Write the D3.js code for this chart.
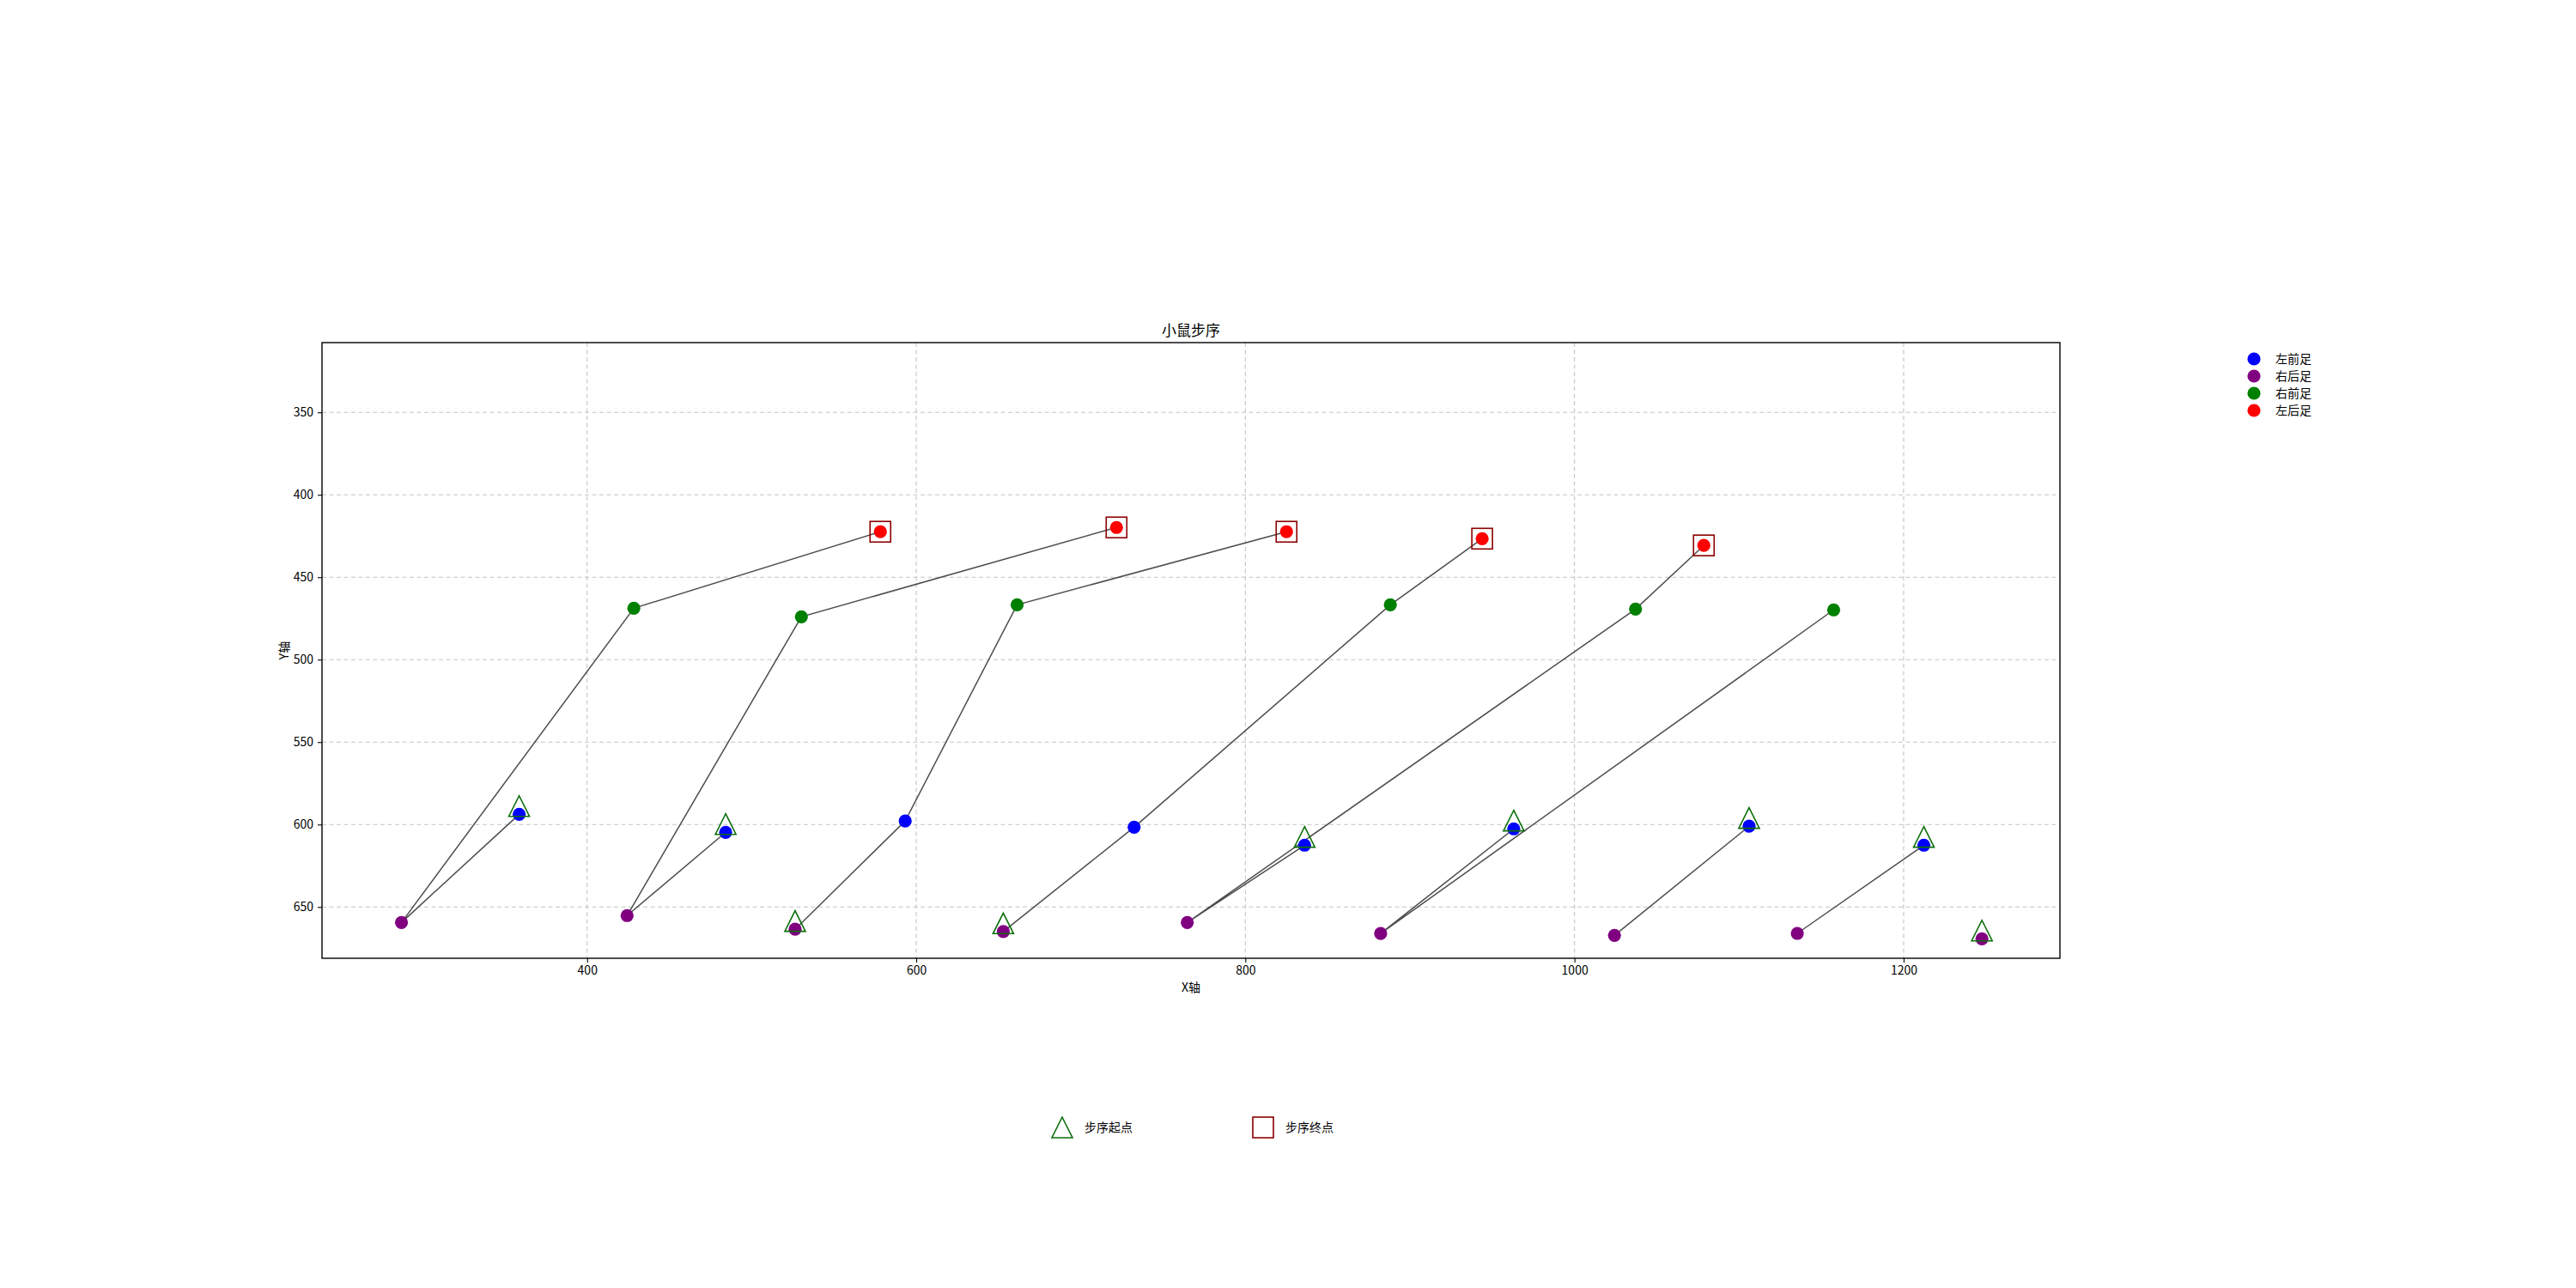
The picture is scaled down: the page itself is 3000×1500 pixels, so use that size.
<!DOCTYPE html>
<html lang="zh">
<head>
<meta charset="utf-8">
<title>小鼠步序</title>
<script src="https://cdn.jsdelivr.net/npm/d3@7"></script>
<style>
  body { margin: 0; background: #ffffff; }
  svg { display: block; font-family: "Noto Sans CJK SC", "DejaVu Sans", sans-serif; }
  .grid line { stroke: #c4c4c4; stroke-width: 1.1; stroke-dasharray: 5,3.5; }
  .axis text { font-size: 14px; fill: #000; font-family: "Noto Sans CJK SC", sans-serif; }
  .axis path, .axis line { stroke: #000; stroke-width: 1.1; }
</style>
</head>
<body>
<script>
// --- data ---
var footNames = ["左前足", "右后足", "右前足", "左后足"];
var footColors = ["blue", "purple", "green", "red"];

// 左前足
var leftFrontX = [358.7, 484.2, 593.3, 732.4, 836.0, 963.1, 1106.1, 1212.3];
var leftFrontY = [593.8, 604.7, 597.8, 601.6, 612.5, 602.6, 601.0, 612.5];
// 右后足
var rightHindX = [287.2, 424.3, 526.4, 652.9, 764.7, 882.2, 1024.3, 1135.4, 1247.6];
var rightHindY = [659.4, 655.2, 663.5, 664.9, 659.4, 666.1, 667.2, 666.0, 669.3];
// 右前足
var rightFrontX = [428.4, 530.2, 661.3, 888.1, 1037.1, 1157.5];
var rightFrontY = [468.8, 474.0, 466.7, 466.7, 469.3, 469.8];
// 左后足
var leftHindX = [578.2, 721.7, 825.0, 943.9, 1078.6];
var leftHindY = [422.4, 419.8, 422.4, 426.6, 430.7];

// step sequences: [foot index, point index]
var sequences = [
  [[0, 0], [1, 0], [2, 0], [3, 0]],
  [[0, 1], [1, 1], [2, 1], [3, 1]],
  [[1, 2], [0, 2], [2, 2], [3, 2]],
  [[1, 3], [0, 3], [2, 3], [3, 3]],
  [[0, 4], [1, 4], [2, 4], [3, 4]],
  [[0, 5], [1, 5], [2, 5]],
  [[0, 6], [1, 6]],
  [[0, 7], [1, 7]],
  [[1, 8]]
];

var xTicks = [400, 600, 800, 1000, 1200];
var yTicks = [350, 400, 450, 500, 550, 600, 650];
var xDomain = [238.9, 1295];
var yDomain = [307.7, 681.1];
var startMarkOffset = -5;  // start triangle sits a little above the first step

var footX = [leftFrontX, rightHindX, rightFrontX, leftHindX];
var footY = [leftFrontY, rightHindY, rightFrontY, leftHindY];

// --- layout ---
var w = 3000, h = 1500;
var padLeft = 375, padRight = 2399, padTop = 399, padBottom = 1116;

var svg = d3.select("body").append("svg")
  .attr("width", w)
  .attr("height", h);

var xScale = d3.scaleLinear().domain(xDomain).range([padLeft, padRight]);
var yScale = d3.scaleLinear().domain(yDomain).range([padTop, padBottom]);

// grid
var grid = svg.append("g").attr("class", "grid");
grid.selectAll("line.gx").data(xTicks).enter().append("line")
  .attr("class", "gx")
  .attr("x1", function(d) { return xScale(d); })
  .attr("x2", function(d) { return xScale(d); })
  .attr("y1", padTop).attr("y2", padBottom);
grid.selectAll("line.gy").data(yTicks).enter().append("line")
  .attr("class", "gy")
  .attr("x1", padLeft).attr("x2", padRight)
  .attr("y1", function(d) { return yScale(d); })
  .attr("y2", function(d) { return yScale(d); });

// axes
var xAxis = d3.axisBottom(xScale).tickValues(xTicks).tickFormat(d3.format("d"))
  .tickSize(5).tickPadding(4).tickSizeOuter(0);
var yAxis = d3.axisLeft(yScale).tickValues(yTicks).tickFormat(d3.format("d"))
  .tickSize(5).tickPadding(5).tickSizeOuter(0);

svg.append("g").attr("class", "axis")
  .attr("transform", "translate(0," + padBottom + ")")
  .call(xAxis);
svg.append("g").attr("class", "axis")
  .attr("transform", "translate(" + padLeft + ",0)")
  .call(yAxis);
svg.selectAll(".axis .domain").remove();

// frame
svg.append("rect")
  .attr("x", padLeft).attr("y", padTop)
  .attr("width", padRight - padLeft).attr("height", padBottom - padTop)
  .attr("fill", "none").attr("stroke", "#000").attr("stroke-width", 1.4);

// sequence lines
var line = d3.line()
  .x(function(p) { return xScale(footX[p[0]][p[1]]); })
  .y(function(p) { return yScale(footY[p[0]][p[1]]); });

svg.append("g").selectAll("path")
  .data(sequences.filter(function(s) { return s.length > 1; }))
  .enter().append("path")
  .attr("d", line)
  .attr("fill", "none")
  .attr("stroke", "#2e2e2e")
  .attr("stroke-opacity", 0.85)
  .attr("stroke-width", 1.5);

// foot points
var points = [];
footX.forEach(function(xs, f) {
  xs.forEach(function(x, i) { points.push({ f: f, x: x, y: footY[f][i] }); });
});
svg.append("g").selectAll("circle")
  .data(points).enter().append("circle")
  .attr("cx", function(d) { return xScale(d.x); })
  .attr("cy", function(d) { return yScale(d.y); })
  .attr("r", 7.6)
  .attr("fill", function(d) { return footColors[d.f]; });

// start triangles
function triPath(s) {
  var hs = s / 2;
  return "M0," + (-hs) + "L" + hs + "," + hs + "L" + (-hs) + "," + hs + "Z";
}
svg.append("g").selectAll("path")
  .data(sequences).enter().append("path")
  .attr("d", triPath(24))
  .attr("transform", function(s) {
    var p = s[0];
    return "translate(" + xScale(footX[p[0]][p[1]]) + "," +
      yScale(footY[p[0]][p[1]] + startMarkOffset) + ")";
  })
  .attr("fill", "none")
  .attr("stroke", "#0b6e0b")
  .attr("stroke-width", 1.6);

// end squares (sequence finishes on 左后足)
svg.append("g").selectAll("rect")
  .data(sequences.filter(function(s) { return s[s.length - 1][0] === 3; }))
  .enter().append("rect")
  .attr("x", function(s) { var p = s[s.length - 1]; return xScale(footX[p[0]][p[1]]) - 12; })
  .attr("y", function(s) { var p = s[s.length - 1]; return yScale(footY[p[0]][p[1]]) - 12; })
  .attr("width", 24).attr("height", 24)
  .attr("fill", "none")
  .attr("stroke", "#8b0000")
  .attr("stroke-width", 1.6);

// title and axis labels
svg.append("text")
  .attr("x", (padLeft + padRight) / 2).attr("y", 391)
  .attr("text-anchor", "middle")
  .attr("font-size", 17)
  .text("小鼠步序");
svg.append("text")
  .attr("x", (padLeft + padRight) / 2).attr("y", 1155)
  .attr("text-anchor", "middle")
  .attr("font-size", 14)
  .text("X轴");
svg.append("text")
  .attr("transform", "translate(336," + (padTop + padBottom) / 2 + ") rotate(-90)")
  .attr("text-anchor", "middle")
  .attr("font-size", 14)
  .text("Y轴");

// foot legend (upper right, outside the axes)
var legend = svg.append("g").attr("transform", "translate(2625,418)");
var items = legend.selectAll("g").data(footNames).enter().append("g")
  .attr("transform", function(d, i) { return "translate(0," + i * 20 + ")"; });
items.append("circle").attr("r", 7.6)
  .attr("fill", function(d, i) { return footColors[i]; });
items.append("text").attr("x", 25).attr("dy", "0.35em")
  .attr("font-size", 14)
  .text(function(d) { return d; });

// marker legend (bottom)
var markerLegend = svg.append("g").attr("transform", "translate(0,1313)");
markerLegend.append("path")
  .attr("d", triPath(24))
  .attr("transform", "translate(1237,0)")
  .attr("fill", "none").attr("stroke", "#0b6e0b").attr("stroke-width", 1.6);
markerLegend.append("text").attr("x", 1263).attr("dy", "0.35em")
  .attr("font-size", 14).text("步序起点");
markerLegend.append("rect")
  .attr("x", 1459).attr("y", -12).attr("width", 24).attr("height", 24)
  .attr("fill", "none").attr("stroke", "#8b0000").attr("stroke-width", 1.6);
markerLegend.append("text").attr("x", 1497).attr("dy", "0.35em")
  .attr("font-size", 14).text("步序终点");
</script>
</body>
</html>
